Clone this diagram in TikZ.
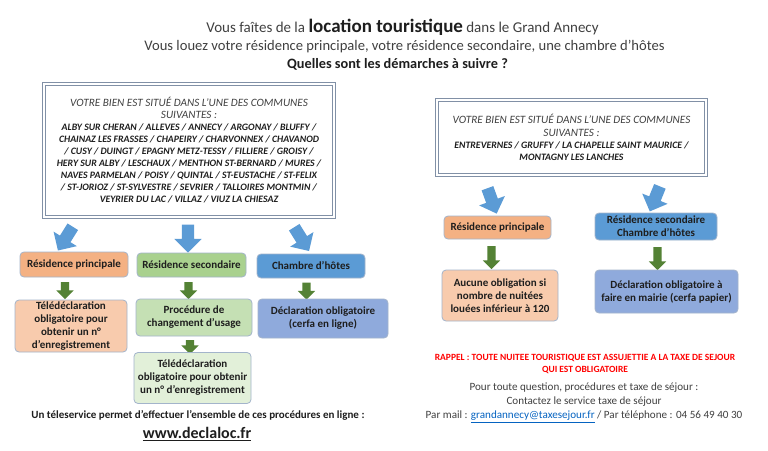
\documentclass[tikz,border=0pt]{standalone}
\usepackage{fontspec}
\setmainfont{Carlito}
\usepackage{xcolor}
\usepackage{tikz}
\usetikzlibrary{shapes.arrows,positioning}
\definecolor{txt}{HTML}{1E1E1E}
\definecolor{gris}{HTML}{404040}
\definecolor{bord}{HTML}{A3B4CB}
\definecolor{cadrec}{HTML}{8190A6}
\definecolor{orhdr}{HTML}{F4B183}
\definecolor{orbox}{HTML}{F8CBAD}
\definecolor{vthdr}{HTML}{A9D18E}
\definecolor{vtbox}{HTML}{C5E0B4}
\definecolor{vtclair}{HTML}{E2F0D9}
\definecolor{blhdr}{HTML}{5B9BD5}
\definecolor{blbox}{HTML}{8FAADC}
\definecolor{flbleu}{HTML}{5B9BD5}
\definecolor{flvert}{HTML}{548235}
\definecolor{rouge}{HTML}{FF0000}
\definecolor{lien}{HTML}{0563C1}

\begin{document}
\begin{tikzpicture}[x=1pt,y=-1pt,
  boite/.style={draw=bord,line width=0.8pt,rounded corners=4pt,align=center,inner sep=1pt,
    font=\fontsize{11}{13}\selectfont\bfseries,text=txt},
  cadre/.style={draw=cadrec,double=white,double distance=1.6pt,line width=1.1pt,
    align=flush center,inner sep=0pt},
  grosse/.style={single arrow,fill=flbleu,inner xsep=0pt,inner ysep=6pt,
    single arrow head extend=7.5pt,minimum height=28pt},
  petite/.style={single arrow,fill=flvert,inner xsep=0pt,inner ysep=4pt,
    single arrow head extend=4.5pt,minimum height=#1,rotate=-90}]
  \useasboundingbox[fill=white] (0,0) rectangle (768,450);

  \node[font=\fontsize{15}{17}\selectfont,text=gris] (t1) at (402.5,27)
    {Vous faîtes de la {\fontsize{19}{21}\selectfont\bfseries\color{txt}location touristique} dans le Grand Annecy};
  \node[font=\fontsize{14.6}{17}\selectfont,text=gris] (t2) at (404.5,47)
    {Vous louez votre résidence principale, votre résidence secondaire, une chambre d’hôtes};
  \node[font=\fontsize{14.3}{17}\selectfont\bfseries,text=txt] (t3) at (397.5,64)
    {Quelles sont les démarches à suivre ?};

  \node[cadre,minimum width=290pt,minimum height=133pt,text width=286pt] (gauche) at (189,150.5)
    {\fontsize{11.2}{12}\selectfont\itshape\color{gris}VOTRE BIEN EST SITUÉ DANS L’UNE DES COMMUNES\\
     SUIVANTES :\\
     \fontsize{9.8}{12}\selectfont\bfseries\color{txt}ALBY SUR CHERAN /  ALLEVES / ANNECY /  ARGONAY / BLUFFY /\\
     CHAINAZ LES FRASSES / CHAPEIRY / CHARVONNEX / CHAVANOD\\
     / CUSY / DUINGT / EPAGNY METZ-TESSY  / FILLIERE / GROISY /\\
     HERY SUR ALBY / LESCHAUX / MENTHON ST-BERNARD / MURES /\\
     NAVES PARMELAN / POISY / QUINTAL / ST-EUSTACHE /  ST-FELIX\\
     / ST-JORIOZ /  ST-SYLVESTRE / SEVRIER / TALLOIRES MONTMIN /\\
     VEYRIER DU LAC / VILLAZ / VIUZ LA CHIESAZ};
  \node[cadre,minimum width=269pt,minimum height=75pt,text width=265pt] (droite) at (571.5,137.5)
    {\fontsize{11.2}{12.7}\selectfont\itshape\color{gris}VOTRE BIEN EST SITUÉ DANS L’UNE DES COMMUNES\\
     SUIVANTES :\\
     \fontsize{9.8}{12.7}\selectfont\bfseries\color{txt}ENTREVERNES / GRUFFY  / LA CHAPELLE SAINT MAURICE /\\
     MONTAGNY LES LANCHES};

  \node[grosse,rotate=-122] (a1) at (67,236) {};
  \node[grosse,rotate=-90] (a2) at (188,235.5) {};
  \node[grosse,rotate=-58] (a3) at (300,236.5) {};
  \node[grosse,rotate=-70,minimum height=27pt] (a4) at (491,198) {};
  \node[grosse,rotate=-112,minimum height=27pt] (a5) at (656,196) {};

  \node[boite,fill=orhdr,minimum width=108pt,minimum height=25pt] (hp) at (74,264.5) {Résidence principale};
  \node[boite,fill=vthdr,minimum width=109pt,minimum height=24pt] (hs) at (191.5,265) {Résidence secondaire};
  \node[boite,fill=blhdr,minimum width=108pt,minimum height=24pt] (hc) at (311,266) {Chambre d’hôtes};

  \node[petite=17pt] (v1) at (65,288.5) {};
  \node[petite=17pt] (v2) at (188.5,288.5) {};
  \node[petite=17pt] (v3) at (306.5,289) {};

  \node[boite,fill=orbox,minimum width=112pt,minimum height=52pt] (dp) at (71,326)
    {Télédéclaration\\obligatoire pour\\obtenir un n°\\d’enregistrement};
  \node[boite,fill=vtbox,minimum width=116pt,minimum height=37pt] (ds) at (194,317.5)
    {Procédure de\\changement d’usage};
  \node[boite,fill=blbox,minimum width=130pt,minimum height=39pt] (dc) at (323,318.5)
    {Déclaration obligatoire\\(cerfa en ligne)};
  \node[petite=14pt] (v4) at (190,345) {};
  \node[boite,fill=vtclair,minimum width=117pt,minimum height=51pt] (dt) at (192.5,378)
    {Télédéclaration\\obligatoire pour obtenir\\un n° d’enregistrement};

  \node[boite,fill=orhdr,minimum width=107pt,minimum height=23pt] (rp) at (497.5,227.5) {Résidence principale};
  \node[boite,fill=blhdr,minimum width=122pt,minimum height=27pt] (rs) at (656,226.5)
    {Résidence secondaire\\Chambre d’hôtes};
  \node[petite=23pt] (v5) at (491.5,255.5) {};
  \node[petite=23pt] (v6) at (657.5,256.5) {};
  \node[boite,fill=orbox,minimum width=116pt,minimum height=51pt] (rpd) at (500,295.5)
    {Aucune obligation si\\nombre de nuitées\\louées inférieur à 120};
  \node[boite,fill=blbox,minimum width=143pt,minimum height=43pt] (rsd) at (666.5,291.5)
    {Déclaration obligatoire à\\faire en mairie (cerfa papier)};

  \node[font=\fontsize{11}{13}\selectfont\bfseries,text=txt] (tele) at (198,415)
    {Un téleservice permet d’effectuer l’ensemble de ces procédures en ligne :};
  \node[font=\fontsize{16}{18}\selectfont\bfseries,text=txt] (web) at (197,434) {\underline{www.declaloc.fr}};

  \node[font=\fontsize{9.5}{12}\selectfont\bfseries,text=rouge,align=center] (rappel) at (585,364)
    {RAPPEL : TOUTE NUITEE TOURISTIQUE EST ASSUJETTIE A LA TAXE DE SEJOUR\\QUI EST OBLIGATOIRE};
  \node[font=\fontsize{11.1}{14}\selectfont,text=gris,align=center] (contact) at (584,403)
    {Pour toute question, procédures et taxe de séjour :\\
     Contactez le service taxe de séjour\\
     Par mail : \textcolor{lien}{\underline{grandannecy@taxesejour.fr}} / Par téléphone : 04 56 49 40 30};
\end{tikzpicture}
\end{document}
